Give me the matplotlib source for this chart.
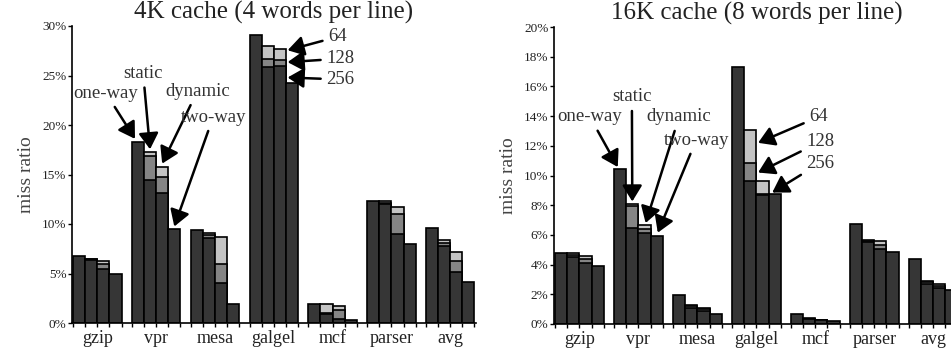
import matplotlib
matplotlib.use("Agg")
import matplotlib.pyplot as plt
import numpy as np

plt.rcParams['font.family'] = ['Liberation Serif', 'DejaVu Serif']

benchmarks = ['gzip', 'vpr', 'mesa', 'galgel', 'mcf', 'parser', 'avg']
configs = ['one-way', 'static', 'dynamic', 'two-way']

# ---- 4K cache (4 words per line) ----
one_way_4k = [6.8, 18.3, 9.35, 29.05, 1.9, 12.3, 9.55]
two_way_4k = [5.0, 9.45, 1.9, 24.2, 0.28, 7.95, 4.15]
static_4k_64 = [6.5, 17.25, 9.1, 27.95, 1.9, 12.3, 8.35]
static_4k_128 = [6.45, 16.9, 8.85, 26.7, 1.0, 12.15, 8.05]
static_4k_256 = [6.4, 14.4, 8.55, 25.9, 0.95, 12.0, 7.75]
dynamic_4k_64 = [6.25, 15.8, 8.65, 27.65, 1.75, 11.7, 7.15]
dynamic_4k_128 = [5.95, 14.75, 6.0, 26.55, 1.3, 11.05, 6.3]
dynamic_4k_256 = [5.45, 13.1, 4.05, 26.0, 0.45, 9.0, 5.15]

# ---- 16K cache (8 words per line) ----
one_way_16k = [4.75, 10.42, 1.95, 17.3, 0.65, 6.73, 4.4]
two_way_16k = [3.9, 5.95, 0.7, 8.75, 0.2, 4.87, 2.29]
static_16k_64 = [4.75, 8.05, 1.25, 13.05, 0.4, 5.67, 2.9]
static_16k_128 = [4.65, 7.95, 1.18, 10.85, 0.37, 5.6, 2.8]
static_16k_256 = [4.5, 6.45, 1.1, 9.6, 0.35, 5.5, 2.68]
dynamic_16k_64 = [4.6, 6.65, 1.07, 9.6, 0.3, 5.57, 2.72]
dynamic_16k_128 = [4.38, 6.4, 0.98, 8.75, 0.28, 5.35, 2.55]
dynamic_16k_256 = [4.12, 6.1, 0.88, 8.7, 0.26, 5.03, 2.4]

yticks_4k = [0, 5, 10, 15, 20, 25, 30]
yticks_16k = [0, 2, 4, 6, 8, 10, 12, 14, 16, 18, 20]

DARK = '#363636'
MID = '#858585'
LIGHT = '#c4c4c4'
W = 0.206
offsets = [-1.5 * W, -0.5 * W, 0.5 * W, 1.5 * W]
LW = 1.2

fig = plt.figure(figsize=(9.51, 3.52), dpi=100)
ax1 = fig.add_axes([72 / 951, 29 / 352, 403.5 / 951, 297 / 352])
ax2 = fig.add_axes([554 / 951, 28 / 352, 404.7 / 951, 297 / 352])


def draw(ax, one, st, dy, two, ymax, yt, title):
    x = np.arange(len(benchmarks))
    bk = dict(edgecolor='black', linewidth=LW, width=W, zorder=2)
    ax.bar(x + offsets[0], one, color=DARK, **bk)
    for j, (v64, v128, v256) in ((1, st), (2, dy)):
        ax.bar(x + offsets[j], v64, color=LIGHT, **bk)
        ax.bar(x + offsets[j], v128, color=MID, **bk)
        ax.bar(x + offsets[j], v256, color=DARK, **bk)
    ax.bar(x + offsets[3], two, color=DARK, **bk)
    ax.set_xlim(-0.43, 6.43)
    ax.set_ylim(0, ymax)
    ax.set_yticks(yt)
    ax.set_yticklabels([f'{t}%' for t in yt], fontsize=9.5, color='#222222')
    ax.set_xticks(x)
    ax.set_xticklabels(benchmarks, fontsize=13, color='#222222')
    minor = np.concatenate([x - 2 * W, x - W, x + W, x + 2 * W])
    ax.set_xticks(minor, minor=True)
    ax.tick_params(axis='x', which='both', direction='out', length=3, width=1, pad=2)
    ax.tick_params(axis='y', direction='out', length=3, width=1, pad=1)
    for s in ('top', 'right'):
        ax.spines[s].set_visible(False)
    for s in ('left', 'bottom'):
        ax.spines[s].set_linewidth(1.2)
    ax.set_ylabel('miss ratio', fontsize=14, color='#444444', labelpad=5)
    ax.set_title(title, fontsize=18, color='#222222', pad=5)


draw(ax1, one_way_4k, (static_4k_64, static_4k_128, static_4k_256),
     (dynamic_4k_64, dynamic_4k_128, dynamic_4k_256), two_way_4k, 30, yticks_4k,
     '4K cache (4 words per line)')
draw(ax2, one_way_16k, (static_16k_64, static_16k_128, static_16k_256),
     (dynamic_16k_64, dynamic_16k_128, dynamic_16k_256), two_way_16k, 20, yticks_16k,
     '16K cache (8 words per line)')

ap = dict(arrowstyle='-|>,head_length=0.65,head_width=0.4', lw=1.8, color='black',
          mutation_scale=15, shrinkA=2, shrinkB=0)
tk = dict(fontsize=13.5, color='#333333', ha='center', va='center', zorder=5)

# vpr = index 1, galgel = index 3
# 4K annotations
ax1.annotate('one-way', xy=(1 + offsets[0] - 0.05, one_way_4k[1] + 0.3), xytext=(0.15, 23.2),
             arrowprops=ap, **tk)
ax1.annotate('static', xy=(1 + offsets[1], static_4k_64[1] + 0.3), xytext=(0.78, 25.2),
             arrowprops=ap, **tk)
ax1.annotate('dynamic', xy=(1 + offsets[2], dynamic_4k_64[1] + 0.3), xytext=(1.70, 23.4),
             arrowprops=ap, **tk)
ax1.annotate('two-way', xy=(1 + offsets[3], two_way_4k[1] + 0.3), xytext=(1.97, 20.8),
             arrowprops=ap, **tk)
ax1.annotate('64', xy=(3 + offsets[2] + W / 2 + 0.03, dynamic_4k_64[3] - 0.1), xytext=(4.08, 28.9),
             arrowprops=ap, **tk)
ax1.annotate('128', xy=(3 + offsets[2] + W / 2 + 0.03, dynamic_4k_128[3] - 0.2), xytext=(4.13, 26.7),
             arrowprops=ap, **tk)
ax1.annotate('256', xy=(3 + offsets[2] + W / 2 + 0.03, two_way_4k[3] + 0.6), xytext=(4.13, 24.6),
             arrowprops=ap, **tk)

# 16K annotations
ax2.annotate('one-way', xy=(1 + offsets[0] - 0.04, one_way_16k[1] + 0.15), xytext=(0.18, 13.94),
             arrowprops=ap, **tk)
ax2.annotate('static', xy=(1 + offsets[1], static_16k_64[1] + 0.2), xytext=(0.89, 15.29),
             arrowprops=ap, **tk)
ax2.annotate('dynamic', xy=(1 + offsets[2] + 0.02, dynamic_16k_64[1] + 0.15), xytext=(1.69, 13.94),
             arrowprops=ap, **tk)
ax2.annotate('two-way', xy=(1 + offsets[3] + 0.02, two_way_16k[1] + 0.2), xytext=(1.98, 12.39),
             arrowprops=ap, **tk)
ax2.annotate('64', xy=(3 + offsets[1] + W / 2 + 0.03, static_16k_64[3] - 0.85), xytext=(4.05, 13.94),
             arrowprops=ap, **tk)
ax2.annotate('128', xy=(3 + offsets[1] + W / 2 + 0.03, static_16k_128[3] - 0.65), xytext=(4.08, 12.26),
             arrowprops=ap, **tk)
ax2.annotate('256', xy=(3 + offsets[3] - 0.04, two_way_16k[3] + 0.1), xytext=(4.08, 10.84),
             arrowprops=ap, **tk)

fig.savefig('out.png', dpi=100)
